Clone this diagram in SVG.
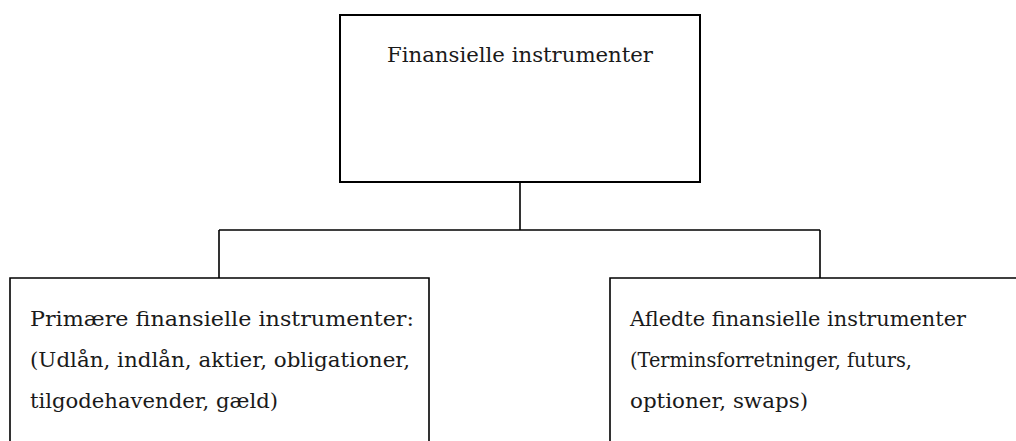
<svg xmlns="http://www.w3.org/2000/svg" width="1016" height="441" viewBox="0 0 1016 441">
  <style>
    .box { fill: #ffffff; stroke: #000000; stroke-width: 1.6; }
    .top { stroke-width: 2; }
    .wire { fill: none; stroke: #000000; stroke-width: 1.6; }
    .lbl { font-family: "DejaVu Serif", "Liberation Serif", serif; font-size: 20.5px; fill: #1a1a1a; }
  </style>
  <rect width="1016" height="441" fill="#ffffff"/>

  <!-- tree connectors -->
  <g id="connectors">
    <path class="wire" d="M520,182 V230 M219,230 H820 M219,230 V278 M820,230 V278"/>
  </g>

  <!-- root -->
  <g id="node-root">
    <rect class="box top" x="340" y="15" width="360" height="167"/>
    <text class="lbl" x="520" y="62" text-anchor="middle" textLength="266" lengthAdjust="spacingAndGlyphs">Finansielle instrumenter</text>
  </g>

  <!-- primary instruments -->
  <g id="node-primary">
    <path class="box" d="M10,450 V278 H429 V450"/>
    <text class="lbl" x="30" y="326" textLength="384" lengthAdjust="spacingAndGlyphs">Primære finansielle instrumenter:</text>
    <text class="lbl" x="30" y="367" textLength="380" lengthAdjust="spacingAndGlyphs">(Udlån, indlån, aktier, obligationer,</text>
    <text class="lbl" x="30" y="408" textLength="248" lengthAdjust="spacingAndGlyphs">tilgodehavender, gæld)</text>
  </g>

  <!-- derived instruments -->
  <g id="node-derived">
    <path class="box" d="M610,450 V278 H1030"/>
    <text class="lbl" x="630" y="326" textLength="336" lengthAdjust="spacingAndGlyphs">Afledte finansielle instrumenter</text>
    <text class="lbl" x="630" y="367" textLength="282" lengthAdjust="spacingAndGlyphs">(Terminsforretninger, futurs,</text>
    <text class="lbl" x="630" y="408" textLength="178" lengthAdjust="spacingAndGlyphs">optioner, swaps)</text>
  </g>
</svg>
